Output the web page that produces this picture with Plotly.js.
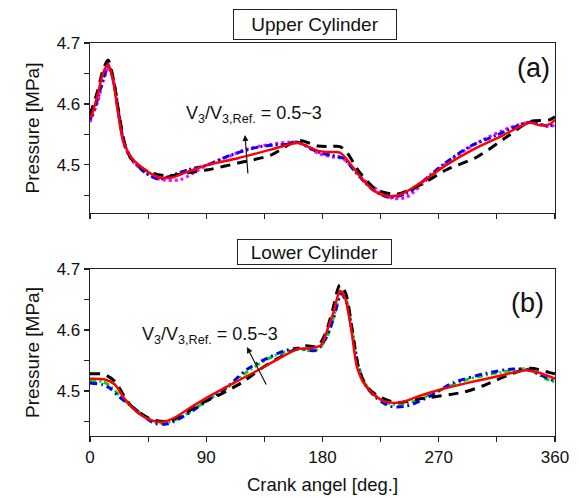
<!DOCTYPE html>
<html>
<head>
<meta charset="utf-8">
<script src="https://cdn.plot.ly/plotly-3.0.1.min.js"></script>
<style>html,body{margin:0;padding:0;background:#fff;}#chart{width:579px;height:498px;}</style>
</head>
<body>
<div id="chart"></div>
<script>
// ---------- Upper cylinder (a) ----------
const upRedX   = [0, 1, 6.2, 10, 14, 17.8, 21.7, 25.5, 31.7, 42.6, 52.6, 62.7, 75.8, 91.4, 114.6, 140, 161, 168.8, 176.5, 184, 193.5, 201, 209, 219, 229.6, 240, 255.5, 276, 296.5, 317.4, 340.6, 348, 356, 360];
const upRedY   = [4.578, 4.580, 4.618, 4.650, 4.666, 4.639, 4.585, 4.541, 4.513, 4.492, 4.480, 4.479, 4.489, 4.500, 4.511, 4.525, 4.536, 4.530, 4.523, 4.521, 4.520, 4.503, 4.481, 4.459, 4.449, 4.451, 4.470, 4.500, 4.525, 4.546, 4.569, 4.565, 4.567, 4.574];

const upBlackX = [0, 6, 10, 14, 18, 22, 26.8, 32, 44, 60, 75.8, 91.4, 114.6, 140, 161, 176.5, 185, 193.5, 199, 209, 222, 237.6, 255.5, 276, 299.6, 322.8, 340.6, 356, 360];
const upBlackY = [4.582, 4.622, 4.655, 4.672, 4.642, 4.590, 4.536, 4.510, 4.490, 4.482, 4.487, 4.492, 4.503, 4.516, 4.540, 4.531, 4.530, 4.530, 4.520, 4.487, 4.459, 4.452, 4.467, 4.492, 4.513, 4.546, 4.571, 4.574, 4.579];

const upBlueX  = [0, 6, 10, 14.5, 18.5, 22.5, 26.5, 33, 43, 52.6, 75.8, 91, 109, 132, 153, 161, 176.5, 186, 196, 204, 219, 231, 245, 273, 294, 315, 333, 341, 354, 360];
const upBlueY  = [4.574, 4.608, 4.640, 4.662, 4.635, 4.580, 4.535, 4.508, 4.487, 4.477, 4.492, 4.500, 4.516, 4.530, 4.534, 4.537, 4.521, 4.516, 4.511, 4.492, 4.459, 4.447, 4.453, 4.500, 4.530, 4.549, 4.566, 4.570, 4.564, 4.566];

const upMagX   = [0, 6, 10, 14.7, 18.7, 22.7, 26.7, 33, 44, 55, 70, 91, 109, 120, 138, 161, 176.5, 188, 196, 211.6, 234.6, 245, 263, 281, 304, 325, 341, 354, 360];
const upMagY   = [4.570, 4.604, 4.636, 4.660, 4.632, 4.578, 4.532, 4.506, 4.486, 4.476, 4.476, 4.500, 4.515, 4.525, 4.533, 4.537, 4.519, 4.513, 4.510, 4.476, 4.445, 4.447, 4.480, 4.511, 4.541, 4.561, 4.570, 4.563, 4.565];

// ---------- Lower cylinder (b) ----------
const loRedX   = [0, 11, 19, 26.8, 37, 47, 56.6, 65.5, 75.8, 88.8, 106.8, 127.5, 145.5, 161, 171, 178.8, 183, 188.4, 193.5, 197.4, 202.6, 206.5, 211.6, 219, 229.6, 240, 255.5, 273, 294, 317.4, 338, 346, 354, 360];
const loRedY   = [4.520, 4.519, 4.511, 4.487, 4.464, 4.452, 4.449, 4.456, 4.470, 4.487, 4.508, 4.531, 4.552, 4.569, 4.570, 4.575, 4.596, 4.628, 4.664, 4.653, 4.596, 4.541, 4.514, 4.495, 4.482, 4.481, 4.492, 4.503, 4.514, 4.525, 4.534, 4.531, 4.525, 4.520];

const loBlackX = [0, 8, 13, 19, 32, 48, 60, 70, 86, 101.6, 117, 135.5, 153, 166.5, 176, 182, 187.5, 193.5, 198, 203, 207.8, 214, 222, 237, 255.5, 289, 304, 322.8, 340.6, 356, 360];
const loBlackY = [4.528, 4.528, 4.525, 4.516, 4.475, 4.453, 4.450, 4.459, 4.479, 4.495, 4.513, 4.541, 4.562, 4.574, 4.573, 4.593, 4.630, 4.674, 4.660, 4.600, 4.538, 4.508, 4.493, 4.481, 4.487, 4.498, 4.508, 4.525, 4.537, 4.530, 4.528];

const loBlueX  = [0, 10, 15, 21.7, 32, 50, 60, 73, 88.8, 107, 122, 137.6, 151, 161, 174, 178, 183.5, 189, 194.5, 198.5, 203.5, 208, 213, 221, 232, 245, 262, 281, 307, 327.5, 340, 354, 360];
const loBlueY  = [4.513, 4.510, 4.505, 4.492, 4.475, 4.447, 4.446, 4.459, 4.481, 4.508, 4.536, 4.554, 4.566, 4.570, 4.566, 4.572, 4.590, 4.622, 4.659, 4.645, 4.590, 4.538, 4.510, 4.490, 4.475, 4.475, 4.490, 4.513, 4.529, 4.536, 4.534, 4.521, 4.516];

const loGreenX = [0, 10, 15, 21.7, 32, 50, 60, 73, 88.8, 107, 122, 143, 161, 174, 178, 183.5, 189, 194.5, 198.5, 203.5, 208, 213, 221, 232, 245, 273, 294, 317, 338, 354, 360];
const loGreenY = [4.517, 4.515, 4.509, 4.495, 4.475, 4.449, 4.448, 4.460, 4.482, 4.506, 4.532, 4.558, 4.568, 4.566, 4.571, 4.589, 4.624, 4.662, 4.648, 4.592, 4.540, 4.512, 4.492, 4.479, 4.479, 4.503, 4.520, 4.530, 4.536, 4.519, 4.515];

const xTickVals = [0, 90, 180, 270, 360];
const xTickText = ['0', '90', '180', '270', '360'];

const FONT = 'Arial, "Liberation Sans", sans-serif';

function tr(x, y, color, dash, width, ax) {
  return {
    x: x, y: y, type: 'scatter', mode: 'lines',
    xaxis: ax === 2 ? 'x2' : 'x', yaxis: ax === 2 ? 'y2' : 'y',
    line: {color: color, dash: dash, width: width, shape: 'spline', smoothing: 0.8},
    hoverinfo: 'skip', showlegend: false
  };
}

const data = [
  tr(upMagX, upMagY, '#ff00ff', '3px,3px', 3, 1),
  tr(upBlueX, upBlueY, '#0000ff', '7px,3px,2px,3px', 3, 1),
  tr(upBlackX, upBlackY, '#000000', '10px,7px', 3, 1),
  tr(upRedX, upRedY, '#ff0000', 'solid', 2.5, 1),
  tr(loGreenX, loGreenY, '#00dd00', '6px,3px,2px,3px', 3, 2),
  tr(loBlueX, loBlueY, '#0000ff', '7px,4px,2px,4px', 3, 2),
  tr(loBlackX, loBlackY, '#000000', '10px,7px', 3, 2),
  tr(loRedX, loRedY, '#ff0000', 'solid', 2.5, 2)
];

const axCommon = {
  showline: true, linecolor: '#222', linewidth: 1.3, mirror: true,
  ticks: 'outside', ticklen: 5, tickwidth: 1.2, tickcolor: '#222',
  showgrid: false, zeroline: false,
  tickfont: {family: FONT, size: 17, color: '#111'}
};

const xBase = Object.assign({}, axCommon, {
  range: [0, 360], tickmode: 'array', tickvals: xTickVals, ticktext: xTickText,
  minor: {tickmode: 'linear', tick0: 0, dtick: 45, ticks: 'outside', ticklen: 5, tickwidth: 1.2, tickcolor: '#222'}
});
const yBase = Object.assign({}, axCommon, {
  tickmode: 'linear', tick0: 4.5, dtick: 0.1, tickformat: '.1f',
  minor: {tickmode: 'linear', tick0: 4.45, dtick: 0.05, ticks: 'outside', ticklen: 5, tickwidth: 1.2, tickcolor: '#222'}
});

const layout = {
  width: 579, height: 498,
  margin: {l: 90, r: 24, t: 43, b: 62},
  paper_bgcolor: '#fff', plot_bgcolor: '#fff',
  font: {family: FONT, color: '#111'},
  xaxis: Object.assign({}, xBase, {domain: [0, 1], anchor: 'y', showticklabels: false}),
  yaxis: Object.assign({}, yBase, {domain: [0.5674, 1], anchor: 'x', range: [4.421, 4.7],
    title: {text: 'Pressure [MPa]', font: {family: FONT, size: 19, color: '#111'}, standoff: 12}}),
  xaxis2: Object.assign({}, xBase, {domain: [0, 1], anchor: 'y2',
    title: {text: 'Crank angel [deg.]', font: {family: FONT, size: 18.5, color: '#111'}, standoff: 12}}),
  yaxis2: Object.assign({}, yBase, {domain: [0, 0.4249], anchor: 'x2', range: [4.426, 4.7],
    title: {text: 'Pressure [MPa]', font: {family: FONT, size: 19, color: '#111'}, standoff: 12}}),
  annotations: [
    {xref: 'paper', yref: 'paper', x: 0.4839, y: 1.048, xanchor: 'center', yanchor: 'middle',
     text: 'Upper Cylinder', showarrow: false, font: {family: FONT, size: 19, color: '#111'},
     bordercolor: '#222', borderwidth: 1, borderpad: 2, width: 158, height: 25, bgcolor: '#fff'},
    {xref: 'paper', yref: 'paper', x: 0.4828, y: 0.467, xanchor: 'center', yanchor: 'middle',
     text: 'Lower Cylinder', showarrow: false, font: {family: FONT, size: 19, color: '#111'},
     bordercolor: '#222', borderwidth: 1, borderpad: 2, width: 149, height: 20, bgcolor: '#fff'},
    {xref: 'paper', yref: 'paper', x: 0.953, y: 0.936, xanchor: 'center', yanchor: 'middle',
     text: '(a)', showarrow: false, font: {family: FONT, size: 27, color: '#111'}},
    {xref: 'paper', yref: 'paper', x: 0.94, y: 0.338, xanchor: 'center', yanchor: 'middle',
     text: '(b)', showarrow: false, font: {family: FONT, size: 27, color: '#111'}},
    {xref: 'x', yref: 'y', x: 72.8, y: 4.583, xanchor: 'left', yanchor: 'middle',
     text: 'V<sub>3</sub>/V<sub>3,Ref.</sub> = 0.5~3', showarrow: false,
     font: {family: FONT, size: 18, color: '#111'}},
    {xref: 'x2', yref: 'y2', x: 38.7, y: 4.591, xanchor: 'left', yanchor: 'middle',
     text: 'V<sub>3</sub>/V<sub>3,Ref.</sub> = 0.5~3', showarrow: false,
     font: {family: FONT, size: 18, color: '#111'}},
    {xref: 'x', yref: 'y', x: 120, y: 4.549, text: '', showarrow: true,
     ax: 3, ay: 40, arrowhead: 2, arrowsize: 1, arrowwidth: 1.2, arrowcolor: '#111'},
    {xref: 'x2', yref: 'y2', x: 121.5, y: 4.572, text: '', showarrow: true,
     ax: 20, ay: 39, arrowhead: 2, arrowsize: 1, arrowwidth: 1.2, arrowcolor: '#111'}
  ]
};

Plotly.newPlot('chart', data, layout, {displayModeBar: false, staticPlot: true});
</script>
</body>
</html>
